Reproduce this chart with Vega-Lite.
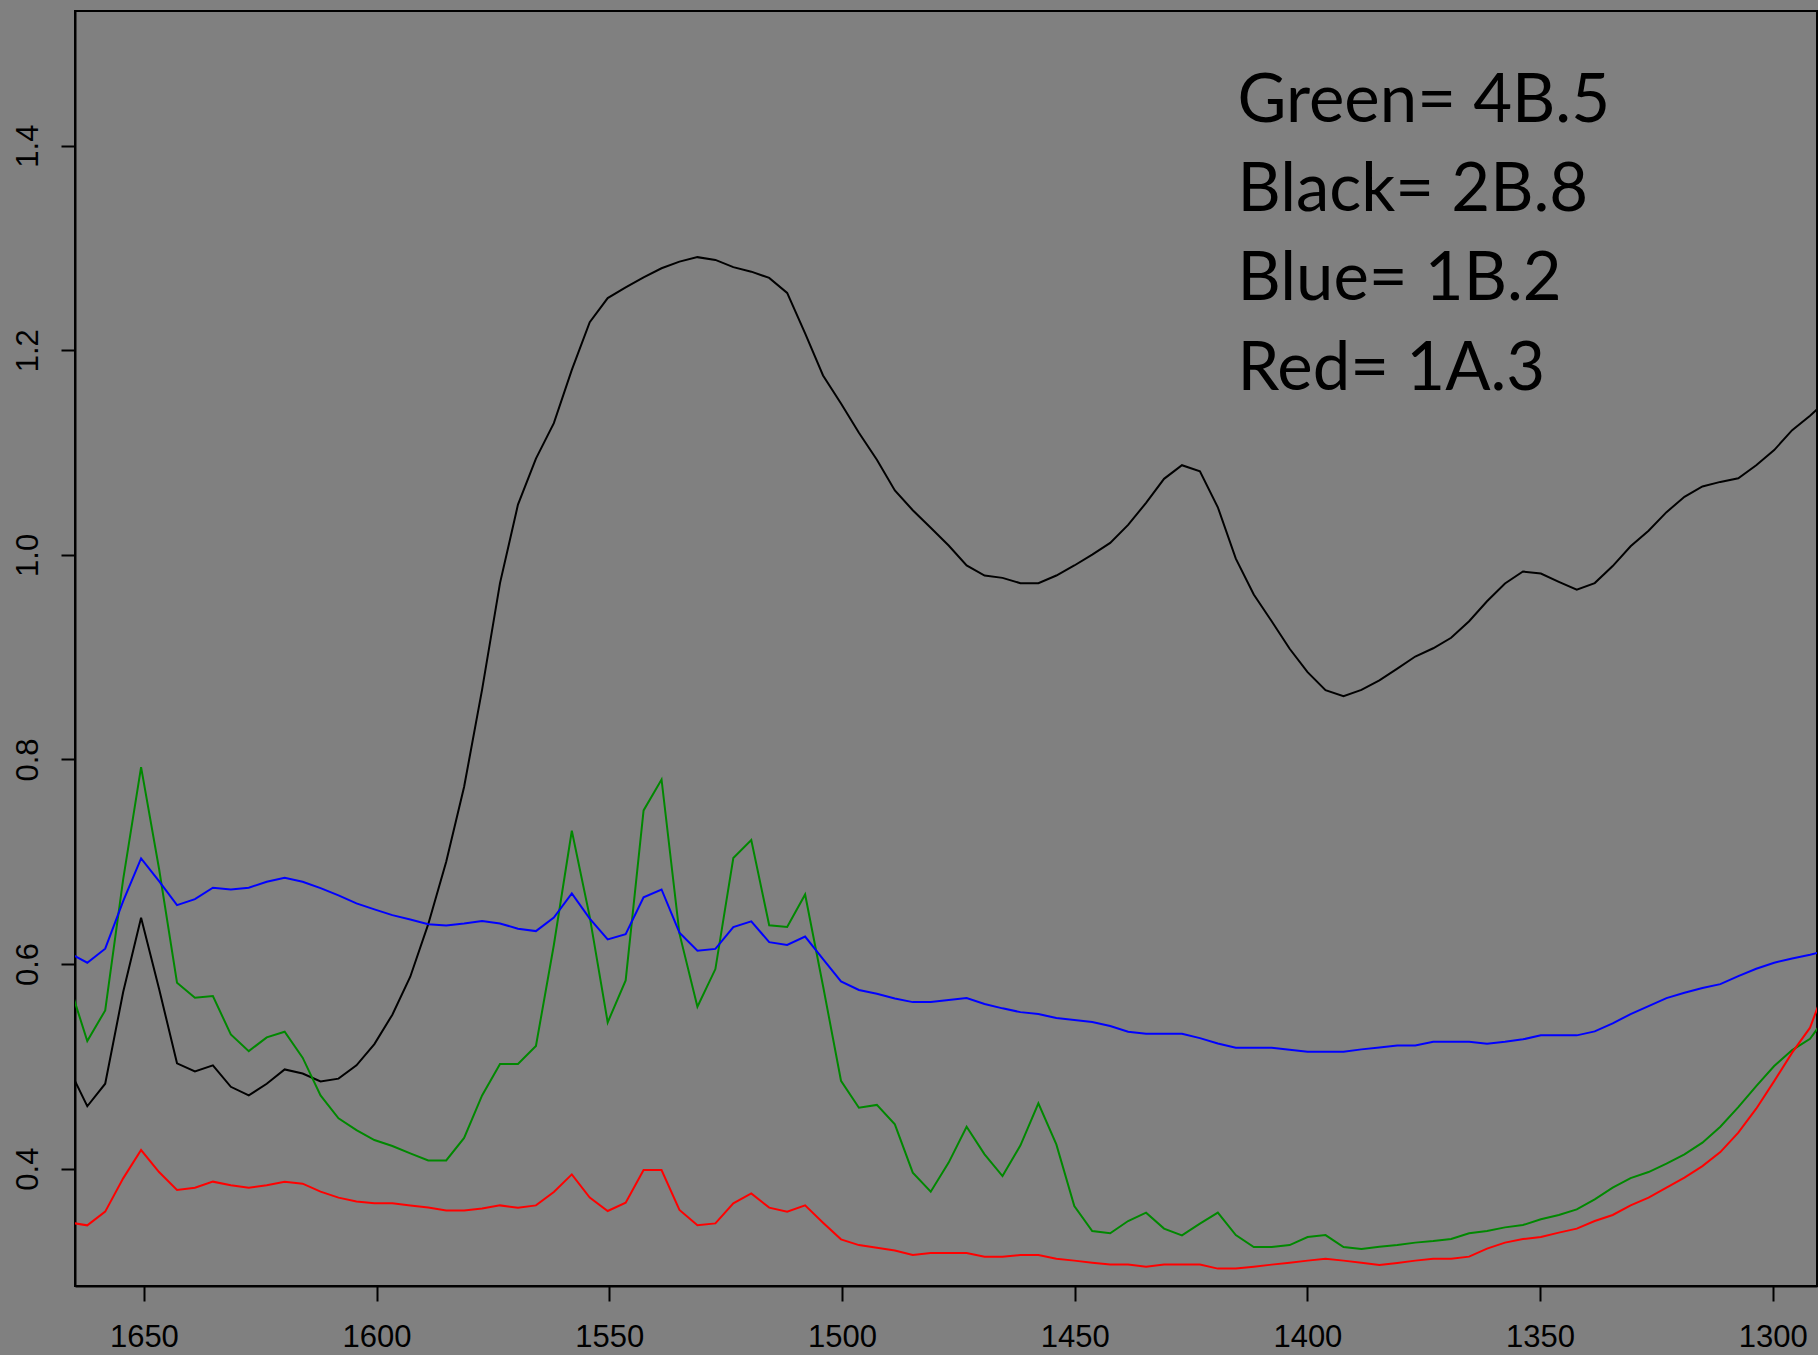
{
  "$schema": "https://vega.github.io/schema/vega-lite/v6.json",
  "width": 1742,
  "height": 1275,
  "autosize": {"type": "none"},
  "padding": {"left": 75, "top": 11, "right": 1, "bottom": 69},
  "background": "#808080",
  "config": {
    "view": {"stroke": "#000000", "strokeWidth": 2, "fill": "#808080"},
    "font": "Liberation Sans"
  },
  "datasets": {
    "spectra": [
      {"wavenumber": 1666.02, "Black": 0.497, "Green": 0.580, "Blue": 0.6108, "Red": 0.3474},
      {"wavenumber": 1662.16, "Black": 0.461, "Green": 0.5247, "Blue": 0.6013, "Red": 0.3446},
      {"wavenumber": 1658.31, "Black": 0.483, "Green": 0.5547, "Blue": 0.615, "Red": 0.358},
      {"wavenumber": 1654.45, "Black": 0.5726, "Green": 0.6827, "Blue": 0.6615, "Red": 0.3905},
      {"wavenumber": 1650.60, "Black": 0.6453, "Green": 0.7925, "Blue": 0.7032, "Red": 0.4182},
      {"wavenumber": 1646.74, "Black": 0.5759, "Green": 0.6932, "Blue": 0.681, "Red": 0.3967},
      {"wavenumber": 1642.88, "Black": 0.503, "Green": 0.5818, "Blue": 0.6576, "Red": 0.3791},
      {"wavenumber": 1639.03, "Black": 0.495, "Green": 0.5671, "Blue": 0.6635, "Red": 0.3814},
      {"wavenumber": 1635.17, "Black": 0.501, "Green": 0.5687, "Blue": 0.6746, "Red": 0.3873},
      {"wavenumber": 1631.32, "Black": 0.480, "Green": 0.5312, "Blue": 0.6729, "Red": 0.3837},
      {"wavenumber": 1627.46, "Black": 0.4716, "Green": 0.5149, "Blue": 0.6746, "Red": 0.3814},
      {"wavenumber": 1623.60, "Black": 0.483, "Green": 0.5283, "Blue": 0.6805, "Red": 0.3837},
      {"wavenumber": 1619.75, "Black": 0.497, "Green": 0.5339, "Blue": 0.6844, "Red": 0.3873},
      {"wavenumber": 1615.89, "Black": 0.493, "Green": 0.5085, "Blue": 0.6805, "Red": 0.3853},
      {"wavenumber": 1612.04, "Black": 0.4853, "Green": 0.4716, "Blue": 0.6742, "Red": 0.3775},
      {"wavenumber": 1608.18, "Black": 0.488, "Green": 0.4492, "Blue": 0.6671, "Red": 0.3717},
      {"wavenumber": 1604.32, "Black": 0.501, "Green": 0.4377, "Blue": 0.6593, "Red": 0.3678},
      {"wavenumber": 1600.47, "Black": 0.5218, "Green": 0.4280, "Blue": 0.6534, "Red": 0.3661},
      {"wavenumber": 1596.61, "Black": 0.5505, "Green": 0.4221, "Blue": 0.6478, "Red": 0.3661},
      {"wavenumber": 1592.76, "Black": 0.5876, "Green": 0.415, "Blue": 0.6436, "Red": 0.364},
      {"wavenumber": 1588.90, "Black": 0.639, "Green": 0.408, "Blue": 0.639, "Red": 0.362},
      {"wavenumber": 1585.04, "Black": 0.700, "Green": 0.408, "Blue": 0.6378, "Red": 0.359},
      {"wavenumber": 1581.19, "Black": 0.7733, "Green": 0.430, "Blue": 0.6397, "Red": 0.359},
      {"wavenumber": 1577.33, "Black": 0.8682, "Green": 0.4716, "Blue": 0.642, "Red": 0.361},
      {"wavenumber": 1573.48, "Black": 0.9724, "Green": 0.5024, "Blue": 0.6397, "Red": 0.3641},
      {"wavenumber": 1569.62, "Black": 1.0491, "Green": 0.5024, "Blue": 0.6345, "Red": 0.3619},
      {"wavenumber": 1565.76, "Black": 1.0941, "Green": 0.5199, "Blue": 0.6322, "Red": 0.3641},
      {"wavenumber": 1561.91, "Black": 1.1287, "Green": 0.6186, "Blue": 0.6455, "Red": 0.3771},
      {"wavenumber": 1558.05, "Black": 1.1808, "Green": 0.7303, "Blue": 0.6691, "Red": 0.3944},
      {"wavenumber": 1554.20, "Black": 1.2274, "Green": 0.6461, "Blue": 0.6444, "Red": 0.3717},
      {"wavenumber": 1550.34, "Black": 1.251, "Green": 0.543, "Blue": 0.6241, "Red": 0.3586},
      {"wavenumber": 1546.48, "Black": 1.2614, "Green": 0.584, "Blue": 0.6291, "Red": 0.3668},
      {"wavenumber": 1542.63, "Black": 1.2713, "Green": 0.7502, "Blue": 0.6652, "Red": 0.3986},
      {"wavenumber": 1538.77, "Black": 1.2801, "Green": 0.7804, "Blue": 0.6729, "Red": 0.3986},
      {"wavenumber": 1534.92, "Black": 1.2866, "Green": 0.6297, "Blue": 0.6307, "Red": 0.3596},
      {"wavenumber": 1531.06, "Black": 1.291, "Green": 0.5583, "Blue": 0.6131, "Red": 0.3446},
      {"wavenumber": 1527.20, "Black": 1.2883, "Green": 0.5951, "Blue": 0.6148, "Red": 0.3465},
      {"wavenumber": 1523.35, "Black": 1.2812, "Green": 0.7036, "Blue": 0.6362, "Red": 0.3661},
      {"wavenumber": 1519.49, "Black": 1.2768, "Green": 0.7212, "Blue": 0.6417, "Red": 0.3758},
      {"wavenumber": 1515.64, "Black": 1.2707, "Green": 0.6379, "Blue": 0.6214, "Red": 0.3619},
      {"wavenumber": 1511.78, "Black": 1.256, "Green": 0.6362, "Blue": 0.6186, "Red": 0.358},
      {"wavenumber": 1507.92, "Black": 1.2165, "Green": 0.668, "Blue": 0.6269, "Red": 0.3641},
      {"wavenumber": 1504.07, "Black": 1.1753, "Green": 0.5786, "Blue": 0.6049, "Red": 0.3472},
      {"wavenumber": 1500.21, "Black": 1.1479, "Green": 0.4859, "Blue": 0.583, "Red": 0.3309},
      {"wavenumber": 1496.36, "Black": 1.1193, "Green": 0.4596, "Blue": 0.5747, "Red": 0.3253},
      {"wavenumber": 1492.50, "Black": 1.093, "Green": 0.4623, "Blue": 0.5709, "Red": 0.3228},
      {"wavenumber": 1488.64, "Black": 1.063, "Green": 0.4433, "Blue": 0.5664, "Red": 0.320},
      {"wavenumber": 1484.79, "Black": 1.0436, "Green": 0.3961, "Blue": 0.5628, "Red": 0.3156},
      {"wavenumber": 1480.93, "Black": 1.0264, "Green": 0.3775, "Blue": 0.5628, "Red": 0.3175},
      {"wavenumber": 1477.08, "Black": 1.0091, "Green": 0.4059, "Blue": 0.5648, "Red": 0.3175},
      {"wavenumber": 1473.22, "Black": 0.9896, "Green": 0.441, "Blue": 0.5667, "Red": 0.3175},
      {"wavenumber": 1469.36, "Black": 0.9798, "Green": 0.414, "Blue": 0.5609, "Red": 0.314},
      {"wavenumber": 1465.51, "Black": 0.9775, "Green": 0.3928, "Blue": 0.5567, "Red": 0.314},
      {"wavenumber": 1461.65, "Black": 0.9723, "Green": 0.4228, "Blue": 0.553, "Red": 0.3156},
      {"wavenumber": 1457.80, "Black": 0.9723, "Green": 0.4638, "Blue": 0.5511, "Red": 0.3156},
      {"wavenumber": 1453.94, "Black": 0.9798, "Green": 0.4237, "Blue": 0.5472, "Red": 0.312},
      {"wavenumber": 1450.08, "Black": 0.9896, "Green": 0.3635, "Blue": 0.5452, "Red": 0.3101},
      {"wavenumber": 1446.23, "Black": 1.0003, "Green": 0.339, "Blue": 0.5433, "Red": 0.3081},
      {"wavenumber": 1442.37, "Black": 1.0117, "Green": 0.3368, "Blue": 0.5394, "Red": 0.3062},
      {"wavenumber": 1438.52, "Black": 1.0293, "Green": 0.3488, "Blue": 0.5339, "Red": 0.3062},
      {"wavenumber": 1434.66, "Black": 1.0508, "Green": 0.357, "Blue": 0.5319, "Red": 0.3042},
      {"wavenumber": 1430.80, "Black": 1.0743, "Green": 0.3414, "Blue": 0.5319, "Red": 0.3062},
      {"wavenumber": 1426.95, "Black": 1.0876, "Green": 0.3348, "Blue": 0.5319, "Red": 0.3062},
      {"wavenumber": 1423.09, "Black": 1.0817, "Green": 0.3462, "Blue": 0.5276, "Red": 0.3062},
      {"wavenumber": 1419.24, "Black": 1.0465, "Green": 0.357, "Blue": 0.5224, "Red": 0.3023},
      {"wavenumber": 1415.38, "Black": 0.9963, "Green": 0.3351, "Blue": 0.5182, "Red": 0.3023},
      {"wavenumber": 1411.52, "Black": 0.9612, "Green": 0.3234, "Blue": 0.5182, "Red": 0.3042},
      {"wavenumber": 1407.67, "Black": 0.9351, "Green": 0.3234, "Blue": 0.5182, "Red": 0.3062},
      {"wavenumber": 1403.81, "Black": 0.9082, "Green": 0.3253, "Blue": 0.5163, "Red": 0.3081},
      {"wavenumber": 1399.96, "Black": 0.8853, "Green": 0.3332, "Blue": 0.5143, "Red": 0.3101},
      {"wavenumber": 1396.10, "Black": 0.8677, "Green": 0.3351, "Blue": 0.5143, "Red": 0.312},
      {"wavenumber": 1392.24, "Black": 0.8619, "Green": 0.3234, "Blue": 0.5143, "Red": 0.3101},
      {"wavenumber": 1388.39, "Black": 0.868, "Green": 0.3214, "Blue": 0.5166, "Red": 0.3081},
      {"wavenumber": 1384.53, "Black": 0.8774, "Green": 0.3236, "Blue": 0.5185, "Red": 0.3058},
      {"wavenumber": 1380.68, "Black": 0.8888, "Green": 0.3253, "Blue": 0.5205, "Red": 0.3078},
      {"wavenumber": 1376.82, "Black": 0.9006, "Green": 0.3277, "Blue": 0.5205, "Red": 0.3101},
      {"wavenumber": 1372.96, "Black": 0.9087, "Green": 0.3292, "Blue": 0.5241, "Red": 0.312},
      {"wavenumber": 1369.11, "Black": 0.9189, "Green": 0.3312, "Blue": 0.5241, "Red": 0.312},
      {"wavenumber": 1365.25, "Black": 0.9351, "Green": 0.3368, "Blue": 0.5241, "Red": 0.314},
      {"wavenumber": 1361.40, "Black": 0.9546, "Green": 0.339, "Blue": 0.5222, "Red": 0.3218},
      {"wavenumber": 1357.54, "Black": 0.972, "Green": 0.3426, "Blue": 0.5241, "Red": 0.3277},
      {"wavenumber": 1353.68, "Black": 0.9837, "Green": 0.3449, "Blue": 0.5264, "Red": 0.3312},
      {"wavenumber": 1349.83, "Black": 0.9817, "Green": 0.3505, "Blue": 0.5303, "Red": 0.3332},
      {"wavenumber": 1345.97, "Black": 0.9736, "Green": 0.3547, "Blue": 0.5303, "Red": 0.3375},
      {"wavenumber": 1342.12, "Black": 0.9659, "Green": 0.3602, "Blue": 0.5303, "Red": 0.3414},
      {"wavenumber": 1338.26, "Black": 0.9724, "Green": 0.370, "Blue": 0.5342, "Red": 0.3488},
      {"wavenumber": 1334.40, "Black": 0.989, "Green": 0.3814, "Blue": 0.542, "Red": 0.3547},
      {"wavenumber": 1330.55, "Black": 1.0084, "Green": 0.3908, "Blue": 0.5511, "Red": 0.3641},
      {"wavenumber": 1326.69, "Black": 1.0235, "Green": 0.3967, "Blue": 0.5589, "Red": 0.3717},
      {"wavenumber": 1322.84, "Black": 1.0417, "Green": 0.4049, "Blue": 0.5667, "Red": 0.3814},
      {"wavenumber": 1318.98, "Black": 1.0567, "Green": 0.414, "Blue": 0.572, "Red": 0.3912},
      {"wavenumber": 1315.12, "Black": 1.0668, "Green": 0.4254, "Blue": 0.5765, "Red": 0.4025},
      {"wavenumber": 1311.27, "Black": 1.0713, "Green": 0.441, "Blue": 0.5804, "Red": 0.4162},
      {"wavenumber": 1307.41, "Black": 1.0749, "Green": 0.4602, "Blue": 0.5882, "Red": 0.4352},
      {"wavenumber": 1303.56, "Black": 1.0875, "Green": 0.4807, "Blue": 0.5954, "Red": 0.4586},
      {"wavenumber": 1299.70, "Black": 1.1024, "Green": 0.5003, "Blue": 0.6013, "Red": 0.4856},
      {"wavenumber": 1295.84, "Black": 1.1219, "Green": 0.5159, "Blue": 0.6055, "Red": 0.5134},
      {"wavenumber": 1291.99, "Black": 1.136, "Green": 0.527, "Blue": 0.6091, "Red": 0.5378},
      {"wavenumber": 1288.13, "Black": 1.152, "Green": 0.551, "Blue": 0.6136, "Red": 0.585}
    ],
    "notes": [
      {"x": 1415, "y": 1.4228, "label": "Green= 4B.5"},
      {"x": 1415, "y": 1.3358, "label": "Black= 2B.8"},
      {"x": 1415, "y": 1.2495, "label": "Blue= 1B.2"},
      {"x": 1415, "y": 1.1615, "label": "Red= 1A.3"}
    ]
  },
  "layer": [
    {
      "data": {"name": "spectra"},
      "transform": [{"fold": ["Black", "Green", "Blue", "Red"], "as": ["series", "absorbance"]}],
      "mark": {"type": "line", "strokeWidth": 2, "clip": true},
      "encoding": {
        "x": {
          "field": "wavenumber", "type": "quantitative",
          "scale": {"domain": [1290.5, 1664.8], "reverse": true, "nice": false, "zero": false},
          "axis": {
            "title": null, "grid": false, "values": [1650, 1600, 1550, 1500, 1450, 1400, 1350, 1300], "format": "d",
            "domainColor": "#000000", "domainWidth": 2, "tickColor": "#000000", "tickWidth": 2, "tickSize": 15,
            "labelFontSize": 31, "labelColor": "#000000", "labelPadding": 21, "labelFont": "Liberation Sans"
          }
        },
        "y": {
          "field": "absorbance", "type": "quantitative",
          "scale": {"domain": [0.2853, 1.5316], "nice": false, "zero": false},
          "axis": {
            "title": null, "grid": false, "values": [0.4, 0.6, 0.8, 1.0, 1.2, 1.4], "format": ".1f",
            "domainColor": "#000000", "domainWidth": 2, "tickColor": "#000000", "tickWidth": 2, "tickSize": 14,
            "labelFontSize": 31, "labelColor": "#000000", "labelPadding": 24, "labelFont": "Liberation Sans",
            "labelAngle": -90, "labelAlign": "center", "labelBaseline": "alphabetic"
          }
        },
        "color": {
          "field": "series", "type": "nominal",
          "scale": {"domain": ["Black", "Green", "Blue", "Red"], "range": ["#000000", "#008800", "#0000FF", "#FF0000"]},
          "legend": null
        }
      }
    },
    {
      "data": {"name": "notes"},
      "mark": {"type": "text", "align": "left", "baseline": "alphabetic", "font": "Lato", "fontSize": 67, "color": "#000000"},
      "encoding": {
        "x": {"field": "x", "type": "quantitative", "title": null},
        "y": {"field": "y", "type": "quantitative", "title": null},
        "text": {"field": "label"}
      }
    }
  ]
}
